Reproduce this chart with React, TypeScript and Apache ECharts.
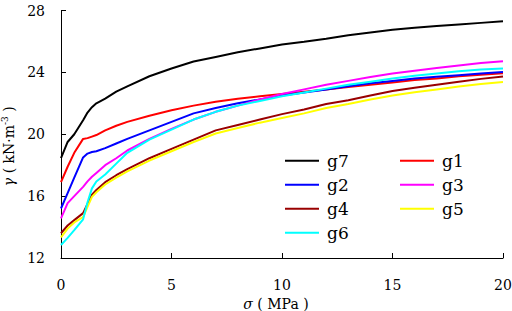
import React, { useEffect, useRef } from "react";
import * as echarts from "echarts";

const sigma = [0, 0.3, 0.6, 1, 1.2, 1.4, 1.6, 2, 2.5, 3, 4, 5, 6, 7, 8, 9, 10, 11, 12, 13, 14, 15, 16, 17, 18, 19, 20];

const g7 = [18.45, 19.5, 20.0, 20.9, 21.4, 21.75, 22.0, 22.3, 22.75, 23.1, 23.75, 24.25, 24.7, 25.0, 25.3, 25.55, 25.8, 25.98, 26.18, 26.4, 26.58, 26.75, 26.88, 27.0, 27.1, 27.2, 27.3];
const g1 = [16.9, 17.9, 18.8, 19.7, 19.75, 19.85, 19.95, 20.25, 20.55, 20.8, 21.2, 21.55, 21.85, 22.1, 22.3, 22.45, 22.6, 22.75, 22.9, 23.05, 23.2, 23.35, 23.5, 23.6, 23.75, 23.85, 23.95];
const g2 = [15.2, 16.2, 17.2, 18.5, 18.75, 18.85, 18.9, 19.1, 19.4, 19.7, 20.25, 20.8, 21.35, 21.7, 22.0, 22.25, 22.5, 22.7, 22.9, 23.1, 23.3, 23.45, 23.6, 23.72, 23.82, 23.92, 24.02];
const g3 = [14.56, 15.55, 16.0, 16.6, 16.95, 17.25, 17.5, 18.0, 18.45, 18.95, 19.7, 20.35, 20.95, 21.45, 21.85, 22.25, 22.6, 22.9, 23.2, 23.45, 23.7, 23.92, 24.1, 24.28, 24.45, 24.6, 24.72];
const g4 = [13.6, 14.1, 14.45, 14.9, 15.5, 16.1, 16.4, 16.9, 17.35, 17.75, 18.45, 19.05, 19.65, 20.25, 20.6, 20.95, 21.3, 21.6, 21.95, 22.2, 22.5, 22.8, 23.0, 23.2, 23.4, 23.58, 23.74];
const g5 = [13.33, 13.9, 14.3, 14.65, 15.3, 15.95, 16.25, 16.75, 17.2, 17.6, 18.3, 18.9, 19.5, 20.05, 20.4, 20.75, 21.05, 21.35, 21.7, 21.95, 22.25, 22.5, 22.72, 22.9, 23.08, 23.25, 23.38];
const g6 = [12.84, 13.3, 13.8, 14.5, 15.6, 16.5, 16.95, 17.4, 18.1, 18.8, 19.65, 20.3, 20.95, 21.45, 21.85, 22.15, 22.45, 22.7, 22.95, 23.2, 23.4, 23.6, 23.78, 23.93, 24.07, 24.18, 24.25];

const seriesNames = ["g1", "g2", "g3", "g4", "g5", "g6", "g7"];
const seriesValues = [g1, g2, g3, g4, g5, g6, g7];
const seriesColors = ["#ff0000", "#0000ff", "#ff00ff", "#990000", "#ffff00", "#00ffff", "#000000"];
const legendLeftCol = ["g7", "g2", "g4", "g6"];
const legendRightCol = ["g1", "g3", "g5"];

const FONT = "DejaVu Serif";

export default function App() {
  const ref = useRef<HTMLDivElement>(null);
  useEffect(() => {
    if (!ref.current) return;
    const chart = echarts.init(ref.current, null, { renderer: "svg" });
    const legendCommon = {
      orient: "vertical",
      top: 151.7,
      padding: 0,
      itemWidth: 34,
      itemHeight: 2,
      itemGap: 6,
      icon: "rect",
      textStyle: { fontFamily: FONT, fontSize: 17, color: "#000", lineHeight: 18, padding: [0, 0, 0, 3] },
    };
    chart.setOption({
      animation: false,
      backgroundColor: "#fff",
      grid: { left: 61, right: 9, top: 10.5, bottom: 53, containLabel: false, outerBoundsMode: "none" },
      legend: [
        { ...legendCommon, left: 285, data: legendLeftCol },
        { ...legendCommon, left: 400, data: legendRightCol },
      ],
      xAxis: {
        type: "value",
        min: 0,
        max: 20,
        interval: 5,
        name: "{i|σ}{a| ( MPa )}",
        nameLocation: "middle",
        nameGap: 35,
        nameTextStyle: {
          padding: [0, 12, 0, 0],
          rich: {
            i: { fontFamily: FONT, fontSize: 14, fontStyle: "italic", color: "#000" },
            a: { fontFamily: FONT, fontSize: 14, color: "#000" },
          },
        },
        axisLine: { show: true, lineStyle: { color: "#000", width: 1 } },
        axisTick: { show: true, inside: true, length: 5, lineStyle: { color: "#000" } },
        axisLabel: { fontFamily: FONT, fontSize: 14, color: "#000", margin: 20 },
        splitLine: { show: false },
      },
      yAxis: {
        type: "value",
        min: 12,
        max: 28,
        interval: 4,
        name: "{i|γ}{a| ( kN·m}{s|-3}{a| )}",
        nameLocation: "middle",
        nameGap: 41,
        nameRotate: 90,
        nameTextStyle: {
          padding: [0, 24, 0, 0],
          rich: {
            i: { fontFamily: FONT, fontSize: 14, fontStyle: "italic", color: "#000", lineHeight: 18 },
            a: { fontFamily: FONT, fontSize: 14, color: "#000", lineHeight: 18 },
            s: { fontFamily: FONT, fontSize: 9, color: "#000", verticalAlign: "top", lineHeight: 12 },
          },
        },
        axisLine: { show: true, lineStyle: { color: "#000", width: 1 } },
        axisTick: { show: true, inside: true, length: 5, lineStyle: { color: "#000" } },
        axisLabel: { fontFamily: FONT, fontSize: 14, color: "#000", margin: 16 },
        splitLine: { show: false },
      },
      series: seriesNames.map((n, i) => ({
        name: n,
        type: "line",
        data: sigma.map((s, j) => [s, seriesValues[i][j]]),
        showSymbol: false,
        symbol: "none",
        lineStyle: { color: seriesColors[i], width: 2 },
        itemStyle: { color: seriesColors[i] },
      })),
    });
    return () => chart.dispose();
  }, []);
  return <div ref={ref} style={{ position: "absolute", left: 0, top: 0, width: 512, height: 311 }} />;
}
